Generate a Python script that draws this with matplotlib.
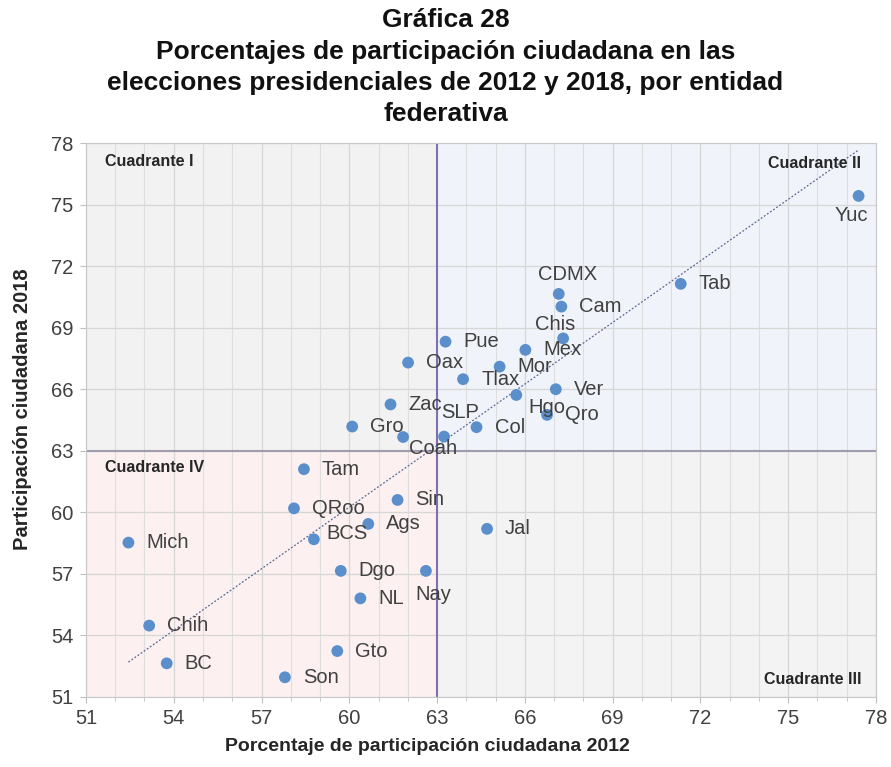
# Gráfica 28 - participación ciudadana 2012 vs 2018 por entidad
import numpy as np
import matplotlib.pyplot as plt
from matplotlib.patches import Rectangle

entidades = ['Yuc', 'Tab', 'CDMX', 'Cam', 'Chis', 'Mex', 'Pue', 'Mor', 'Tlax', 'Oax',
             'Ver', 'Hgo', 'Qro', 'Col', 'SLP', 'Coah', 'Zac', 'Gro', 'Tam', 'Sin',
             'QRoo', 'Ags', 'BCS', 'Mich', 'Jal', 'Dgo', 'Nay', 'NL', 'Chih', 'Gto',
             'BC', 'Son']
part_2012 = [77.41, 71.33, 67.16, 67.25, 67.31, 66.02, 63.29, 65.14, 63.89, 62.01,
             67.06, 65.71, 66.76, 64.35, 63.24, 61.84, 61.41, 60.10, 58.45, 61.65,
             58.11, 60.65, 58.79, 52.45, 64.71, 59.71, 62.62, 60.38, 53.16, 59.59,
             53.76, 57.80]
part_2018 = [75.44, 71.15, 70.66, 70.04, 68.49, 67.93, 68.33, 67.11, 66.50, 67.31,
             66.01, 65.73, 64.76, 64.16, 63.70, 63.68, 65.27, 64.19, 62.11, 60.61,
             60.20, 59.44, 58.69, 58.53, 59.20, 57.15, 57.15, 55.81, 54.48, 53.24,
             52.64, 51.96]

# linea de tendencia (extremos)
tend_x = [52.45, 77.41]
tend_y = [52.70, 77.68]

# corte de cuadrantes
corte = 63

# posicion de cada etiqueta respecto al punto (puntos tipograficos)
default_off = (13, 0, 'left')
label_off = {
    'Yuc': (-5, -14, 'center'),
    'CDMX': (6, 14, 'center'),
    'Chis': (-6, 10, 'center'),
    'Hgo': (9, -9, 'left'),
    'SLP': (-2, 17, 'left'),
    'Coah': (4, -8, 'left'),
    'BCS': (9, 4, 'left'),
    'Nay': (5, -17, 'center'),
}

x = np.array(part_2012)
y = np.array(part_2018)

plt.rcParams['font.family'] = ['Liberation Sans', 'DejaVu Sans']

fig = plt.figure(figsize=(8.91, 7.67), dpi=100)
ax = fig.add_axes([0.0965, 0.0913, 0.8865, 0.7217])

# fondos de los cuadrantes
ax.add_patch(Rectangle((51, corte), corte - 51, 78 - corte, color='#f2f2f2', zorder=0, lw=0))
ax.add_patch(Rectangle((corte, corte), 78 - corte, 78 - corte, color='#f0f4fa', zorder=0, lw=0))
ax.add_patch(Rectangle((corte, 51), 78 - corte, corte - 51, color='#f3f3f3', zorder=0, lw=0))
ax.add_patch(Rectangle((51, 51), corte - 51, corte - 51, color='#fcf0f0', zorder=0, lw=0))

ax.set_xlim(51, 78)
ax.set_ylim(51, 78)
ax.set_xticks(np.arange(51, 79, 3))
ax.set_yticks(np.arange(51, 79, 3))
ax.set_xticks(np.arange(51, 79, 1), minor=True)
ax.grid(which='major', color='#d6d6d6', linewidth=0.9, zorder=1)
ax.grid(which='minor', axis='x', color='#dedede', linewidth=0.8, zorder=1)
ax.set_axisbelow(True)
ax.tick_params(which='both', colors='#bfbfbf', labelcolor='#404040', labelsize=14.5,
               length=4, pad=5)
ax.tick_params(which='minor', length=3)
for s in ax.spines.values():
    s.set_color('#c8c8c8')

ax.axvline(corte, color='#8070b0', linewidth=1.5, zorder=2)
ax.axhline(corte, color='#a09cb0', linewidth=1.5, zorder=2)

ax.plot(tend_x, tend_y, color='#5a6890', linewidth=0.9, linestyle=(0, (1.5, 1.5)), zorder=3)

ax.scatter(x, y, s=72, color='#5b8fcb', edgecolors='none', zorder=4)

for name, xi, yi in zip(entidades, x, y):
    dx, dy, ha = label_off.get(name, default_off)
    ax.annotate(name, (xi, yi), xytext=(dx, dy), textcoords='offset points',
                ha=ha, va='center', fontsize=14.5, color='#404040', zorder=5)

qfont = dict(fontsize=11.5, fontweight='bold', color='#262626')
ax.text(51.65, 77.1, 'Cuadrante I', ha='left', va='center', **qfont)
ax.text(77.5, 77.0, 'Cuadrante II', ha='right', va='center', **qfont)
ax.text(77.5, 51.85, 'Cuadrante III', ha='right', va='center', **qfont)
ax.text(51.65, 62.2, 'Cuadrante IV', ha='left', va='center', **qfont)

ax.set_xlabel('Porcentaje de participación ciudadana 2012', fontsize=14,
              fontweight='bold', color='#262626', labelpad=10)
ax.xaxis.set_label_coords(0.432, -0.075)
ax.set_ylabel('Participación ciudadana 2018', fontsize=14.5,
              fontweight='bold', color='#262626')
ax.yaxis.set_label_coords(-0.068, 0.52)

fig.text(0.5, 0.989, 'Gráfica 28\nPorcentajes de participación ciudadana en las\n'
         'elecciones presidenciales de 2012 y 2018, por entidad\nfederativa',
         ha='center', va='top', fontsize=19, fontweight='bold', color='#111111',
         linespacing=1.38)

fig.savefig('out.png', dpi=100)
